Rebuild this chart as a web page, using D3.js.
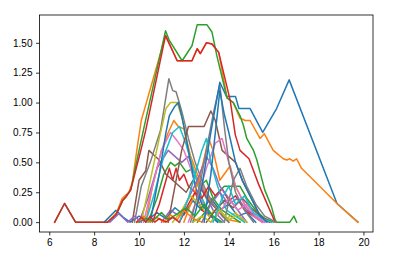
<!DOCTYPE html>
<html>
<head>
<meta charset="utf-8">
<script src="https://cdn.jsdelivr.net/npm/d3@7"></script>
<style>
  html, body { margin: 0; padding: 0; background: #fff; }
  svg { display: block; }
</style>
</head>
<body>
<svg id="chart"></svg>
<script>
// matplotlib tab10 colour cycle
const tab10 = ["#1f77b4", "#ff7f0e", "#2ca02c", "#d62728", "#9467bd",
               "#8c564b", "#e377c2", "#7f7f7f", "#bcbd22", "#17becf"];

const xTicks = [6, 8, 10, 12, 14, 16, 18, 20];
const yTicks = [0, 0.25, 0.5, 0.75, 1.0, 1.25, 1.5];

// each series: [hour, value] pairs
const s00 = [[8.45,0],[8.97,0.1],[9.3,0.04],[9.6,0],[10.0,0.05],[10.4,0.02],[10.8,0.08],[11.2,0.03],[11.6,0.12],[12.0,0.06],[12.4,0.18],[12.8,0.1],[13.2,0.2],[13.6,0.1],[14.0,0.15],[14.4,0.05],[14.8,0.08],[15.2,0]];
const s01 = [[10.3,0],[10.6,0.3],[11.0,0.6],[11.3,0.75],[11.55,0.85],[11.75,0.8],[12.0,0.78],[12.3,0.55],[12.7,0.35],[13.1,0.2],[13.5,0.1],[14.0,0.02],[14.5,0]];
const s02 = [[10.4,0],[10.8,0.2],[11.1,0.4],[11.4,0.5],[11.6,0.47],[11.8,0.5],[12.1,0.42],[12.4,0.45],[12.7,0.3],[13.0,0.35],[13.3,0.2],[13.7,0.1],[14.1,0.05],[14.5,0]];
const s03 = [[10.6,0],[10.9,0.15],[11.2,0.35],[11.35,0.45],[11.5,0.35],[11.65,0.45],[11.8,0.35],[12.0,0.4],[12.2,0.3],[12.5,0.25],[12.8,0.1],[13.2,0.05],[13.6,0]];
const s04 = [[10.0,0],[10.4,0.2],[10.8,0.45],[11.3,0.6],[11.6,0.55],[11.9,0.5],[12.2,0.55],[12.5,0.4],[12.9,0.25],[13.3,0.1],[13.8,0]];
const s05 = [[9.7,0],[10.0,0.35],[10.3,0.43],[10.44,0.6],[10.67,0.56],[10.9,0.52],[11.2,0.4],[11.5,0.35],[11.8,0.3],[12.1,0.25],[12.4,0.35],[12.7,0.3],[13.0,0.2],[13.5,0.1],[14.0,0]];
const s06 = [[10.2,0],[10.6,0.3],[11.0,0.6],[11.4,0.75],[11.7,0.68],[12.0,0.6],[12.3,0.45],[12.6,0.25],[13.0,0.1],[13.5,0]];
const s07 = [[9.8,0],[10.1,0.3],[10.5,0.5],[10.96,0.77],[11.33,1.2],[11.5,1.1],[11.65,1.09],[11.9,0.93],[12.2,0.7],[12.5,0.5],[12.9,0.3],[13.3,0.15],[13.7,0.05],[14.0,0]];
const s08 = [[10.1,0],[10.5,0.35],[10.9,0.7],[11.2,0.95],[11.4,1.0],[11.7,1.0],[11.95,0.85],[12.2,0.6],[12.5,0.4],[12.8,0.2],[13.2,0.05],[13.6,0]];
const s09 = [[10.3,0],[10.7,0.25],[11.1,0.55],[11.5,0.75],[11.8,0.8],[12.1,0.65],[12.4,0.45],[12.8,0.2],[13.2,0.05],[13.6,0]];
const s10 = [[10.5,0],[10.9,0.4],[11.2,0.75],[11.35,0.89],[11.6,0.97],[11.75,1.0],[11.9,0.89],[12.1,0.7],[12.3,0.5],[12.5,0.3],[12.8,0.15],[13.2,0.05],[13.5,0]];
const s11 = [[12.0,0],[12.4,0.2],[12.8,0.45],[13.1,0.7],[13.3,0.6],[13.6,0.35],[14.06,0.47],[14.3,0.3],[14.7,0.15],[15.1,0.05],[15.5,0]];
const s12 = [[12.6,0],[13.0,0.1],[13.4,0.22],[13.8,0.3],[14.2,0.3],[14.5,0.3],[14.8,0.2],[15.2,0.1],[15.6,0.03],[16.0,0]];
const s13 = [[11.8,0],[12.2,0.15],[12.5,0.25],[12.8,0.2],[13.1,0.3],[13.4,0.22],[13.7,0.28],[14.0,0.18],[14.3,0.22],[14.7,0.1],[15.1,0.05],[15.5,0]];
const s14 = [[11.0,0],[11.4,0.1],[11.8,0.05],[12.2,0.2],[12.6,0.35],[13.0,0.55],[13.3,0.45],[13.6,0.3],[14.0,0.2],[14.4,0.1],[14.8,0]];
const s15 = [[11.3,0],[11.6,0.3],[11.9,0.6],[12.2,0.8],[12.9,0.8],[13.2,0.93],[13.4,0.85],[13.7,0.6],[14.0,0.55],[14.3,0.5],[14.6,0.35],[15.0,0.2],[15.4,0.05],[15.8,0]];
const s16 = [[12.2,0],[12.6,0.2],[13.0,0.45],[13.4,0.66],[13.7,0.7],[14.0,0.5],[14.3,0.3],[14.7,0.15],[15.1,0.05],[15.5,0]];
const s17 = [[12.3,0],[12.7,0.3],[13.0,0.6],[13.3,0.9],[13.6,1.15],[13.8,0.8],[14.0,0.5],[14.3,0.25],[14.7,0.1],[15.1,0]];
const s18 = [[11.5,0],[11.9,0.1],[12.3,0.22],[12.7,0.15],[13.1,0.05],[13.5,0.12],[13.9,0.03],[14.3,0.08],[14.7,0]];
const s19 = [[11.8,0],[12.2,0.2],[12.5,0.4],[12.8,0.6],[13.0,0.7],[13.2,0.5],[13.5,0.3],[13.9,0.1],[14.3,0.05],[14.7,0]];
const s20 = [[12.4,0],[12.8,0.3],[13.2,0.75],[13.6,1.17],[13.9,1.05],[14.3,1.05],[14.45,0.95],[14.95,0.95],[15.51,0.75],[16.13,0.95],[16.69,1.19],[18.82,0.156],[19.75,0]];
const s21 = [[8.6,0],[9.0,0.08],[9.25,0.2],[9.55,0.25],[9.7,0.33],[9.9,0.6],[10.1,0.85],[11.18,1.56],[11.7,1.35],[12.36,1.35],[12.59,1.45],[12.73,1.41],[13.0,1.5],[13.25,1.49],[13.55,1.42],[13.92,1.04],[14.2,1.0],[14.5,0.87],[14.73,0.85],[14.95,0.85],[15.39,0.7],[15.58,0.74],[15.98,0.6],[16.43,0.53],[16.58,0.52],[16.72,0.53],[16.87,0.51],[17.02,0.53],[17.24,0.45],[18.82,0.156],[19.75,0]];
const s22 = [[6.24,0],[6.68,0.156],[7.17,0],[8.6,0],[8.97,0.06],[9.27,0.18],[9.41,0.21],[9.63,0.27],[10.0,0.6],[10.22,0.79],[11.18,1.6],[11.35,1.52],[11.92,1.35],[12.36,1.475],[12.59,1.65],[13.03,1.65],[13.25,1.59],[13.47,1.39],[13.92,1.04],[14.2,1.0],[14.5,0.89],[14.65,0.81],[14.8,0.7],[15.1,0.6],[15.25,0.52],[15.6,0.27],[15.9,0.13],[16.06,0.02],[16.13,0],[16.72,0],[16.9,0.05],[17.02,0]];
const s23 = [[6.24,0],[6.68,0.156],[7.17,0],[8.6,0],[8.97,0.06],[9.27,0.18],[9.41,0.21],[9.63,0.27],[10.08,0.6],[10.3,0.77],[11.18,1.56],[11.7,1.35],[12.36,1.35],[12.59,1.45],[12.73,1.41],[13.0,1.5],[13.25,1.49],[13.55,1.42],[14.06,1.02],[14.29,0.73],[14.5,0.6],[14.9,0.53],[15.32,0.32],[15.76,0.13],[16.06,0]];
const s24 = [[12.8,0],[13.2,0.15],[13.6,0.25],[14.0,0.15],[14.4,0.2],[14.8,0.1],[15.2,0.05],[15.6,0]];
const s25 = [[13.0,0],[13.4,0.1],[13.8,0.18],[14.2,0.12],[14.6,0.2],[15.0,0.12],[15.4,0.05],[15.9,0]];
const s26 = [[13.2,0],[13.6,0.08],[14.0,0.2],[14.4,0.1],[14.8,0.15],[15.2,0.05],[15.6,0]];
const s27 = [[13.8,0],[14.2,0.35],[14.5,0.45],[14.8,0.3],[15.2,0.15],[15.6,0.05],[16.1,0]];
const s28 = [[12.4,0],[12.8,0.05],[13.2,0],[13.6,0.1],[14.0,0.02],[14.4,0.06],[14.8,0]];
const s29 = [[13.3,0],[13.7,0.2],[14.0,0.3],[14.3,0.15],[14.7,0.22],[15.1,0.08],[15.5,0.03],[15.9,0]];
const s30 = [[12.9,0],[13.2,0.4],[13.6,1.1],[13.8,0.9],[14.0,0.75],[14.3,0.5],[14.6,0.35],[15.0,0.2],[15.4,0.05],[15.7,0]];
const s31 = [[9.9,0],[10.2,0.05],[10.5,0],[10.8,0.04],[11.1,0],[11.4,0.06],[11.7,0.02],[12.0,0.1],[12.4,0.03],[12.8,0]];
const s32 = [[10.0,0],[10.3,0.03],[10.6,0.01],[11.0,0.08],[11.3,0.02],[11.7,0.07],[12.1,0.12],[12.5,0.05],[12.9,0.15],[13.3,0.05],[13.7,0]];
const s33 = [[9.9,0],[10.1,0.04],[10.3,0],[10.5,0.05],[10.7,0],[10.9,0.03],[11.2,0],[11.5,0.04],[11.8,0]];
const s34 = [[8.7,0],[9.1,0.07],[9.5,0],[9.8,0.05],[10.1,0]];

const seriesList = [s00, s01, s02, s03, s04, s05, s06, s07, s08, s09,
                    s10, s11, s12, s13, s14, s15, s16, s17, s18, s19,
                    s20, s21, s22, s23, s24, s25, s26, s27, s28, s29,
                    s30, s31, s32, s33, s34];

const width = 396, height = 260;
const margin = {top: 15, right: 23, bottom: 28, left: 39.5};

const svg = d3.select("#chart")
  .attr("width", width)
  .attr("height", height)
  .style("font-family", "'DejaVu Sans', sans-serif");

// matplotlib-style autoscale: data extent plus 5% margins
const allPts = seriesList.flat();
const xExt = d3.extent(allPts, d => d[0]);
const yExt = d3.extent(allPts, d => d[1]);
const xPad = (xExt[1] - xExt[0]) * 0.05;
const yPad = (yExt[1] - yExt[0]) * 0.05;

const xScale = d3.scaleLinear()
  .domain([xExt[0] - xPad, xExt[1] + xPad])
  .range([margin.left, width - margin.right]);
const yScale = d3.scaleLinear()
  .domain([yExt[0] - yPad, yExt[1] + yPad])
  .range([height - margin.bottom, margin.top]);

const plot = svg.append("g");
plot.append("clipPath").attr("id", "clip")
  .append("rect")
  .attr("x", margin.left).attr("y", margin.top)
  .attr("width", width - margin.left - margin.right)
  .attr("height", height - margin.top - margin.bottom);

const line = d3.line()
  .x(d => xScale(d[0]))
  .y(d => yScale(d[1]));

plot.append("g")
  .attr("clip-path", "url(#clip)")
  .selectAll("path")
  .data(seriesList)
  .join("path")
    .attr("fill", "none")
    .attr("stroke", (d, i) => tab10[i % 10])
    .attr("stroke-width", 1.5)
    .attr("stroke-linejoin", "round")
    .attr("stroke-linecap", "square")
    .attr("d", line);

// axes
const xAxis = g => g
  .attr("transform", `translate(0,${height - margin.bottom})`)
  .call(d3.axisBottom(xScale).tickValues(xTicks).tickFormat(d3.format("d"))
    .tickSize(3.5).tickPadding(3.5))
  .call(g => g.select(".domain").remove())
  .call(g => g.selectAll(".tick line").attr("stroke", "#000").attr("stroke-width", 0.8))
  .call(g => g.selectAll(".tick text").attr("fill", "#000").attr("font-size", 10));

const yAxis = g => g
  .attr("transform", `translate(${margin.left},0)`)
  .call(d3.axisLeft(yScale).tickValues(yTicks).tickFormat(d3.format(".2f"))
    .tickSize(3.5).tickPadding(3.5))
  .call(g => g.select(".domain").remove())
  .call(g => g.selectAll(".tick line").attr("stroke", "#000").attr("stroke-width", 0.8))
  .call(g => g.selectAll(".tick text").attr("fill", "#000").attr("font-size", 10));

svg.append("g").attr("font-family", null).call(xAxis);
svg.append("g").attr("font-family", null).call(yAxis);

// frame
svg.append("rect")
  .attr("x", margin.left).attr("y", margin.top)
  .attr("width", width - margin.left - margin.right)
  .attr("height", height - margin.top - margin.bottom)
  .attr("fill", "none")
  .attr("stroke", "#000")
  .attr("stroke-width", 0.8);
</script>
</body>
</html>
